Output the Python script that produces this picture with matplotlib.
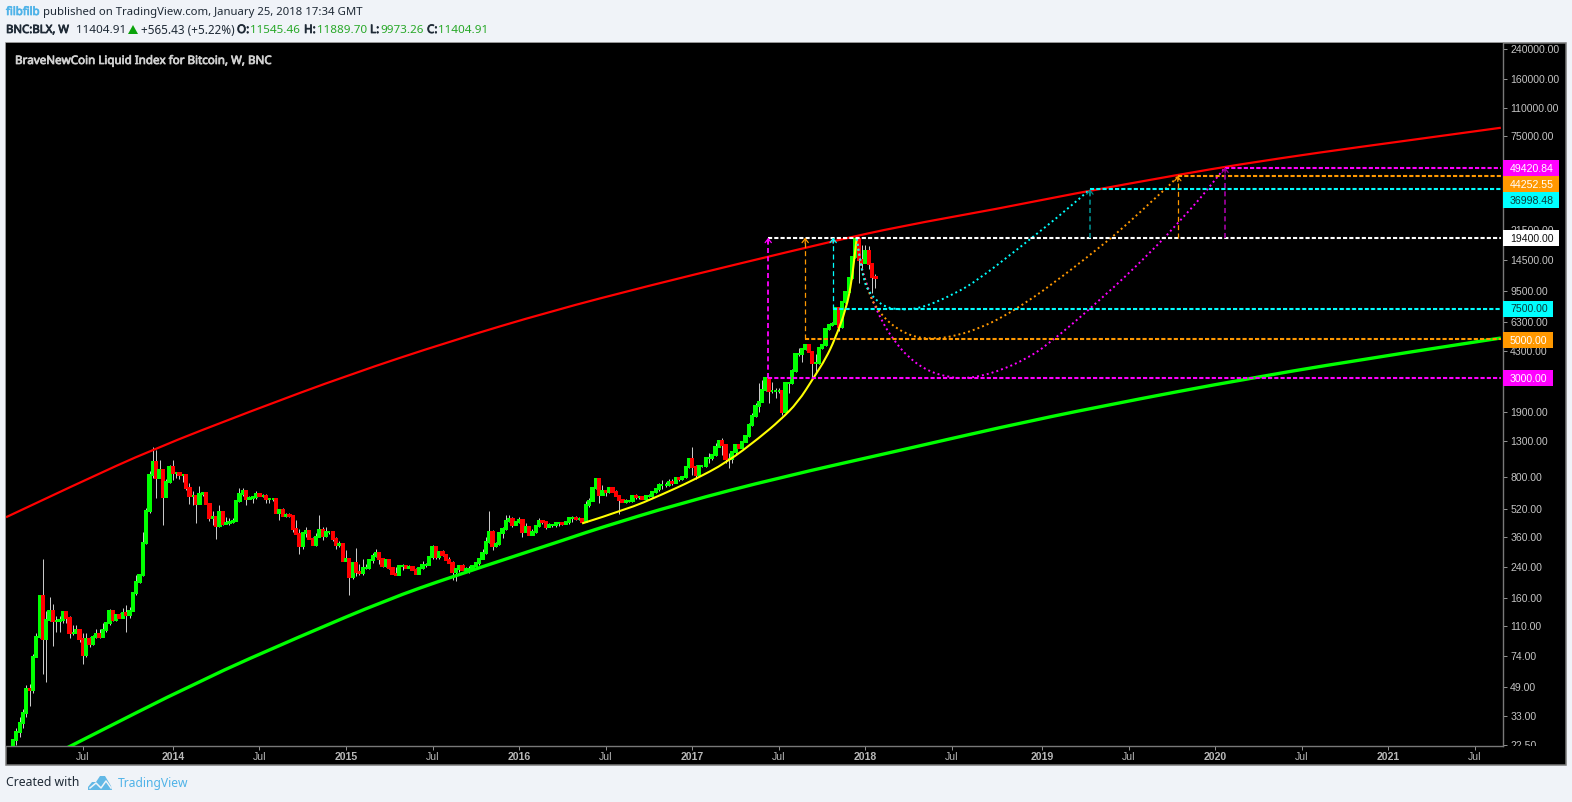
import matplotlib
matplotlib.use("Agg")
import matplotlib.pyplot as plt
import matplotlib.patheffects as pe
from matplotlib.patches import Rectangle, Polygon, PathPatch
from matplotlib.path import Path
from matplotlib.lines import Line2D

W, H = 1572, 802
BG = "#f0f3f8"
plt.rcParams["lines.scale_dashes"] = False
plt.rcParams["font.family"] = ["Liberation Sans", "DejaVu Sans"]

closes = [
    23.9,26.9,30.1,34.3,47.2,46.6,72.5,94.5,163,92,
    119,134,117,117,119,132,123,99.7,99.7,104,
    92,74.4,92,86,94.5,98.4,94.5,104,114,134,
    119,127,123,130,127,135,170,197,216,331,
    506,818,973,786,874,610,745,912,842,842,
    818,818,695,619,619,556,635,644,556,464,
    470,415,500,426,432,438,443,578,635,661,
    594,602,610,635,619,619,594,594,594,493,
    513,474,480,474,399,372,317,378,388,350,
    322,358,393,363,383,383,350,322,326,260,
    267,210,254,227,224,237,237,264,278,289,
    270,243,264,237,221,216,243,243,237,240,
    231,221,237,247,247,274,313,274,293,282,
    264,256,227,234,243,231,234,234,243,254,
    270,289,335,383,317,326,378,399,443,456,
    420,438,449,383,409,368,383,415,443,438,
    409,420,420,432,432,426,438,464,464,456,
    456,438,549,578,688,775,627,661,653,688,
    653,619,586,571,578,578,619,610,610,594,
    619,619,653,679,716,716,716,745,735,786,
    775,796,912,1012,912,818,924,924,1026,1026,
    1068,1188,1287,1220,1012,1012,1110,1220,1172,1270,
    1376,1592,1795,2050,2165,2538,2980,2504,2504,2504,
    2504,1895,2785,2785,3270,4100,4100,4380,4620,4210,
    3655,3655,4440,4620,5720,6032,6110,7565,5870,8190,
    9390,11300,15100,19100,14330,13800,16150,13590,11545.46,11404.91,
]
highs = [
    24.5,28.1,32.6,36.2,49.9,50.6,75.4,99.7,163,270,
    134,161,147,125,125,134,134,125,111,111,
    106,99.7,99.7,94.5,97.1,106,106,115,115,137,
    135,128,130,139,145,141,170,216,216,383,
    527,866,1187,1141,999,874,775,935,999,842,
    851,818,830,735,661,619,706,653,635,563,
    506,470,549,500,470,464,464,578,688,688,
    661,619,619,661,635,635,635,602,602,602,
    513,527,493,493,480,449,399,383,409,388,
    358,378,480,409,409,383,383,358,340,322,
    301,267,254,310,250,270,250,264,289,306,
    289,270,264,264,237,240,243,250,247,247,
    243,237,237,260,254,274,322,313,297,301,
    282,274,260,237,247,250,240,243,247,254,
    270,306,358,506,393,335,378,409,480,480,
    470,438,470,456,432,409,399,420,464,449,
    443,432,420,432,432,432,443,470,474,474,
    470,464,578,602,688,786,775,716,670,688,
    688,670,627,594,594,586,619,635,619,610,
    619,635,653,679,735,765,745,783,775,786,
    796,796,924,1026,1188,935,924,935,1026,1100,
    1068,1254,1304,1340,1237,1100,1110,1220,1220,1270,
    1376,1635,1870,2135,2790,2900,3050,3010,2820,2610,
    2610,2538,2785,2820,3360,4100,4490,4490,4620,4620,
    4265,4100,4440,4620,5720,6032,6280,7565,7700,8190,
    9390,11300,15100,19400,19400,17500,17500,17300,13770,11889.7,
]
lows = [
    22.5,22.5,24.9,28.1,32.5,37.7,44.8,72.5,93.3,57.8,
    51.9,117,83.9,102,102,115,115,93.3,97.1,99.7,
    88.3,66,72.5,82.8,85,93.3,93.3,94.5,101,112,
    117,117,122,125,101,123,134,165,194,213,
    326,493,786,602,786,420,610,735,765,786,
    775,745,670,556,549,433,556,619,556,443,
    420,350,409,420,426,420,432,443,571,619,
    549,594,563,594,619,610,563,563,578,493,
    449,474,470,470,383,372,288,306,358,350,
    322,317,358,344,358,372,340,306,313,260,
    264,165,205,213,216,216,234,234,256,274,
    250,240,240,234,221,216,219,231,237,237,
    231,221,221,234,240,247,267,270,270,278,
    264,256,202,199,227,231,227,224,231,240,
    247,267,285,331,301,313,322,354,393,438,
    409,420,432,358,383,368,368,378,409,426,
    399,409,409,409,415,420,426,426,438,449,
    449,438,438,535,578,679,563,627,619,644,
    653,619,486,571,563,571,571,594,594,594,
    594,610,610,644,661,679,697,706,716,735,
    755,765,786,900,818,775,818,912,912,960,
    999,1054,1188,1068,960,900,960,1083,1172,1172,
    1270,1358,1570,1770,1895,2165,2504,2135,2440,2290,
    2440,1819,1850,2440,2750,3230,3990,3720,4323,4210,
    3000,3230,3610,4380,4560,5644,5950,6110,5570,5800,
    8080,9390,11140,14900,10560,12720,13770,12720,9290,9973.26,
]
first_open = 22.5

# Trend lines: week index from 2013-02-04 / price
red_w = [-2.1,20.1,42,71.2,101.2,131.2,161.3,191.3,218.3,245.9,266.4,296.4,317.4,350.5,368.5,392.5,416.5,446.8]
red_p = [468,745,1157,1918,3141,4877,7270,10280,13770,18470,22580,28700,34600,45100,51600,60500,69900,84000]
green_w = [15.9,17.7,56.2,86.2,112.6,131.2,168.8,174.8,200.3,230.3,266.4,296.4,326.4,372.4,416.5,446.8]
green_p = [21.5,22.4,53.2,95.7,156.7,210,363,398,563,796,1141,1550,2050,3018,4150,5100]
yellow_w = [170.9,184.4,194.3,204.2,214.4,224.3,230.3,235.7,240.5,244.1,246.8,250.2,251.9,252.8,253.4]
yellow_p = [431,520,626,765,972,1357,1702,2163,3018,3885,5010,7500,10990,15750,19400]
mag_w = [253.4,254.3,256.5,258.3,261.3,264.3,268.8,274.8,281.4,285.3,290.4,297.3,303.9,310.2,326.4,342.3,350.8,356.8,361.3,364.0]
mag_p = [19100,13970,10290,8200,6195,5010,3940,3270,3018,2978,3058,3358,3838,4565,8420,16400,24770,33200,42800,49420]
ora_w = [253.4,254.3,256.2,257.4,258.9,263.4,269.7,276.3,283.8,290.7,297,303.3,310.8,326.4,334.5,342.6,349.2,349.8]
ora_p = [19100,13970,10420,9000,7770,6120,5210,5010,5280,5870,6710,7980,10010,17060,23170,32360,42200,44252]
cya_w = [253.4,254.3,255.6,256.8,259.2,262.2,265.8,269.4,272.7,276.3,282.9,289.2,302.4,317.4,323.4]
cya_p = [19100,14730,10850,9620,8420,7670,7470,7470,7670,8090,9240,10850,17060,29100,36998]

LINE_END = 446.8
levels = [49420.84, 44252.55, 36998.48, 19400.0, 7500.0, 5000.0, 3000.0]
level_start = [364.0, 349.8, 323.4, 226.8, 246.3, 237.9, 226.8]
level_col = ["#ff00ff", "#ff9800", "#00ffff", "#ffffff", "#00ffff", "#ff9800", "#ff00ff"]
arrow_w = [226.8, 237.9, 246.3, 323.4, 349.8, 364.0]
arrow_lo = [3000, 5000, 7500, 19400, 19400, 19400]
arrow_hi = [19400, 19400, 19400, 36998.48, 44252.55, 49420.84]
arrow_col = ["#ff00ff", "#ff9800", "#00ffff", "#008b8b", "#ff9800", "#990099"]
arrow_lw = [1.3, 0.9, 0.9, 1.2, 0.9, 1.3]

ytick_vals = [240000,160000,110000,75000,21500,14500,9500,6300,4300,1900,1300,800,520,360,240,160,110,74,49,33,22.5]
xtick_w = [21,48,74,100,126,152,178,204,230,256,282,309,335,361,387,413,439]
xtick_lab = ["Jul","2014","Jul","2015","Jul","2016","Jul","2017","Jul","2018","Jul","2019","Jul","2020","Jul","2021","Jul"]

tag_text = ["49420.84","44252.55","36998.48","19400.00","7500.00","5000.00","3000.00"]
tag_bg = ["#ff00ff","#ff9800","#00ffff","#ffffff","#00ffff","#ff9800","#ff00ff"]
tag_fg = ["#ffffff","#ffffff","#0b3b3b","#111111","#0b3b3b","#ffffff","#ffffff"]
tag_top = [160,176,192,230,301,332,370]
tag_right = [1559,1559,1559,1559,1553,1553,1553]

fig = plt.figure(figsize=(W/100, H/100), dpi=100, facecolor=BG)

def fx(x): return x / W
def fy(y): return 1 - y / H

def frect(x0, y0, x1, y1, **kw):
    r = Rectangle((fx(x0), fy(y1)), (x1-x0)/W, (y1-y0)/H, transform=fig.transFigure, **kw)
    fig.add_artist(r)
    return r

frect(6, 43, 1565.5, 765, facecolor="#000000", edgecolor="#7a7a7a", linewidth=1.1, zorder=-1)

ax = fig.add_axes([fx(6), fy(746), (1503-6)/W, (746-43)/H], facecolor="#000000", zorder=0)
ax.set_yscale("log")
ax.set_xlim(-2.1, 447.45)
ax.set_ylim(22.2, 259900)

weeks = list(range(len(closes)))
opens = [first_open] + closes[:-1]
ax.vlines(weeks, lows, highs, color="#c8c8c8", linewidth=0.72, zorder=2)
bar_col = ["#00ff00" if c >= o else "#ff0000" for o, c in zip(opens, closes)]
bottoms = [min(o, c) for o, c in zip(opens, closes)]
heights = [abs(c - o) for o, c in zip(opens, closes)]
ax.bar(weeks, heights, bottom=bottoms, width=0.68, color=bar_col, edgecolor=bar_col,
       linewidth=0.25, antialiased=False, zorder=3)

def smooth(ws, ps, **kw):
    verts = [(ws[0], ps[0])]
    codes = [Path.MOVETO]
    for k in range(1, len(ws) - 1):
        verts.append((ws[k], ps[k]))
        codes.append(Path.CURVE3)
        if k < len(ws) - 2:
            verts.append(((ws[k] + ws[k+1]) / 2, (ps[k] * ps[k+1]) ** 0.5))
        else:
            verts.append((ws[k+1], ps[k+1]))
        codes.append(Path.CURVE3)
    ax.add_patch(PathPatch(Path(verts, codes), fill=False, **kw))

smooth(red_w, red_p, edgecolor="#ff0000", lw=1.6, zorder=4, capstyle="butt")
smooth(green_w, green_p, edgecolor="#00ff00", lw=2.4, zorder=4, capstyle="butt")
smooth(yellow_w, yellow_p, edgecolor="#ffff00", lw=1.5, zorder=4, capstyle="butt")
dot = (0, (1.4, 2.2))
for cw, cp, col in [(mag_w, mag_p, "#ff00ff"), (ora_w, ora_p, "#ff9800"), (cya_w, cya_p, "#00ffff")]:
    smooth(cw, cp, edgecolor=col, lw=1.4, ls=dot, zorder=5, capstyle="butt")

for p, s, c in zip(levels, level_start, level_col):
    ax.plot([s, LINE_END], [p, p], color=c, lw=1.5, ls=(0, (3.0, 1.5)), zorder=5, dash_capstyle="butt")
for w, lo, hi, c, lw in zip(arrow_w, arrow_lo, arrow_hi, arrow_col, arrow_lw):
    ax.plot([w, w], [lo, hi], color=c, lw=lw, ls=(0, (3.6, 2.4)), zorder=5, dash_capstyle="butt")
    ax.annotate("", xy=(w, hi), xytext=(0, -4), textcoords="offset points",
                arrowprops=dict(arrowstyle="->,head_length=0.35,head_width=0.28", color=c, lw=0.9,
                                mutation_scale=8, shrinkA=0, shrinkB=0), zorder=6)

for s in ["left", "top"]:
    ax.spines[s].set_visible(False)
for s in ["right", "bottom"]:
    ax.spines[s].set_color("#787878")
    ax.spines[s].set_linewidth(1.0)
ax.yaxis.tick_right()
ax.set_yticks(ytick_vals)
ax.set_yticklabels([f"{v:.2f}" for v in ytick_vals])
ax.minorticks_off()
ax.tick_params(axis="y", which="major", length=3, width=0.72, color="#909090", pad=2.2,
               labelsize=7.6, labelcolor="#c4c4c4")
ax.set_xticks(xtick_w)
ax.set_xticklabels(xtick_lab)
ax.tick_params(axis="x", which="major", length=3, width=0.72, color="#909090", pad=1.5,
               labelsize=7.6, labelcolor="#b8b8b8")
for lab, txt in zip(ax.get_xticklabels(), xtick_lab):
    if txt != "Jul":
        lab.set_fontweight("bold")
clip = Rectangle((0, fy(746)), 1, fy(43) - fy(746), transform=fig.transFigure)
for lab in ax.get_yticklabels():
    lab.set_clip_path(clip)

for txt, bg, fg, top, right in zip(tag_text, tag_bg, tag_fg, tag_top, tag_right):
    frect(1503, top, right, top+16, facecolor=bg, edgecolor="none", zorder=2)
    fig.text(fx(1510), fy(top+8.5), txt, color=fg, fontsize=7.6, va="center", ha="left", zorder=3)

NS = ["Noto Sans", "DejaVu Sans"]
def t(x, y, s, color="#1f2a36", bold=False, size=8.4):
    tx = fig.text(fx(x), fy(y + 1.5), s, color=color, fontsize=size, family=NS, va="center", ha="left", zorder=3)
    if bold:
        tx.set_path_effects([pe.withStroke(linewidth=0.55, foreground=color)])

t(6, 11, "filbfilb", color="#4fb3e8", bold=True, size=8.2)
t(43, 11, "published on TradingView.com, January 25, 2018 17:34 GMT", size=8.15)
t(6, 29, "BNC:BLX, W", bold=True, size=8.2)
t(76, 29, "11404.91")
fig.add_artist(Polygon([(fx(128), fy(34)), (fx(138), fy(34)), (fx(133), fy(25))], closed=True,
                       transform=fig.transFigure, facecolor="#0aa30a", edgecolor="none"))
t(141, 29, "+565.43 (+5.22%)", size=8.45)
GR = "#28a828"
for lx, lab, vx, val in [(237, "O:", 250, "11545.46"), (304, "H:", 317, "11889.70"),
                         (370, "L:", 380, "9973.26"), (427, "C:", 438, "11404.91")]:
    t(lx, 29, lab, bold=True)
    t(vx, 29, val, color=GR)
t(15, 60, "BraveNewCoin Liquid Index for Bitcoin, W, BNC", color="#d0d0d0", bold=True, size=8.35)
t(6, 781.5, "Created with", size=8.8)
t(118, 781.5, "TradingView", color="#4fb3e8", size=8.7)

cloud = [(88,787),(92,782),(96,782),(100,776),(105,776),(108,781),(111,786),(112,790),(88,790)]
fig.add_artist(Polygon([(fx(x), fy(y)) for x, y in cloud], closed=True, transform=fig.transFigure,
                       facecolor="#62b8e6", edgecolor="none"))
zig = [(90,788),(96,783),(101,788),(106,781),(111,788)]
fig.add_artist(Line2D([fx(x) for x, y in zig], [fy(y) for x, y in zig], transform=fig.transFigure,
                      color=BG, lw=1.1))

fig.savefig("out.png", dpi=100, facecolor=BG)
